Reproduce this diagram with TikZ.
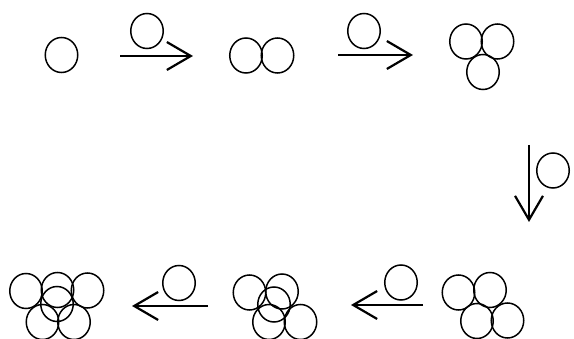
\documentclass[tikz,border=0pt]{standalone}
\usetikzlibrary{shapes.geometric,arrows.meta}
\begin{document}
\begin{tikzpicture}[x=1pt,y=-1pt,
  ball/.style={draw,ellipse,minimum width=32.5pt,minimum height=35pt,inner sep=0pt,line width=1.5pt},
  push/.style={line width=2.2pt,-{Straight Barb[length=24pt,width=28pt]}}]
\useasboundingbox (0,0) rectangle (574,339);
% top row
\node[ball] (a1) at (61.5,55) {};
\node[ball] (p1) at (147,31) {};
\coordinate (s1) at (120,56); \coordinate (e1) at (193,56);
\draw[push] (s1) -- (e1);
\node[ball] (b1) at (246,55.5) {};
\node[ball] (b2) at (277.5,55.5) {};
\node[ball] (p2) at (364,31) {};
\coordinate (s2) at (338,55); \coordinate (e2) at (413,55);
\draw[push] (s2) -- (e2);
\node[ball] (c1) at (466,41.5) {};
\node[ball] (c2) at (497.5,41.5) {};
\node[ball] (c3) at (483,72) {};
% down arrow
\coordinate (s3) at (529,145); \coordinate (e3) at (529,222);
\draw[push] (s3) -- (e3);
\node[ball] (p3) at (553,170.5) {};
% bottom right group
\node[ball] (d1) at (458.5,292.5) {};
\node[ball] (d2) at (490,290) {};
\node[ball] (d3) at (477,321) {};
\node[ball] (d4) at (507.5,320.5) {};
\coordinate (s4) at (423,305); \coordinate (e4) at (351,305);
\draw[push] (s4) -- (e4);
\node[ball] (p4) at (401,282.5) {};
% middle group
\node[ball] (f1) at (249.5,292.5) {};
\node[ball] (f2) at (282,291.5) {};
\node[ball] (f3) at (274,304.5) {};
\node[ball] (f4) at (269,322) {};
\node[ball] (f5) at (300.5,322) {};
\coordinate (s5) at (208,306); \coordinate (e5) at (132,306);
\draw[push] (s5) -- (e5);
\node[ball] (p5) at (179,283) {};
% left group
\node[ball] (g1) at (26,291) {};
\node[ball] (g2) at (57.5,290) {};
\node[ball] (g3) at (87.5,290.5) {};
\node[ball] (g4) at (57,304) {};
\node[ball] (g5) at (42.5,322) {};
\node[ball] (g6) at (74,322) {};
\end{tikzpicture}
\end{document}
